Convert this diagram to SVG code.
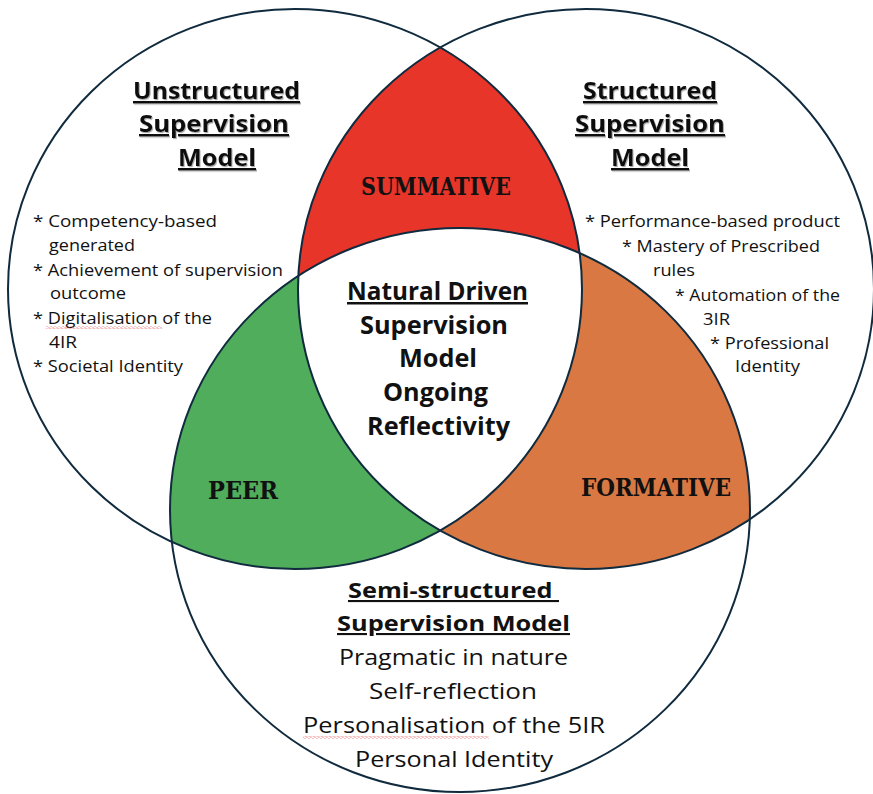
<svg xmlns="http://www.w3.org/2000/svg" width="873" height="794" viewBox="0 0 873 794">
<style>
.ring{fill:none;stroke:#102a3e;stroke-width:2}
.h{font-family:"Open Sans","Liberation Sans",sans-serif;font-weight:700;font-size:24px;fill:#111;text-decoration:underline}
.c{font-family:"Open Sans","Liberation Sans",sans-serif;font-weight:700;font-size:25px;fill:#111}
.li{font-family:"Open Sans","Liberation Sans",sans-serif;font-size:16.5px;fill:#111}
.deco{font-family:"DejaVu Serif","Liberation Serif",serif;font-weight:700;font-size:24px;fill:#111}
.bb{font-family:"Open Sans","Liberation Sans",sans-serif;font-weight:700;font-size:21px;fill:#111;text-decoration:underline}
.b{font-family:"Open Sans","Liberation Sans",sans-serif;font-size:22px;fill:#111}
.sq{fill:url(#wave)}
</style>
<defs>
<clipPath id="clipL"><ellipse cx="295" cy="289" rx="287" ry="280"/></clipPath>
<clipPath id="clipR"><ellipse cx="586" cy="289" rx="288" ry="280"/></clipPath>
<filter id="sh" x="-5%" y="-20%" width="110%" height="150%"><feDropShadow dx="1" dy="1.2" stdDeviation="0.6" flood-color="#777" flood-opacity="0.6"/></filter>
<pattern id="wave" patternUnits="userSpaceOnUse" width="4" height="3"><path d="M0 1.5 L1 0.5 L3 2.5 L4 1.5" fill="none" stroke="#e04a4a" stroke-width="0.7"/></pattern>
</defs>
<rect width="873" height="794" fill="#fff"/>
<g id="regions">
<ellipse cx="586" cy="289" rx="288" ry="280" fill="#E8352A" clip-path="url(#clipL)"/>
<ellipse cx="460" cy="510" rx="290" ry="282" fill="#4FAD5B" clip-path="url(#clipL)"/>
<ellipse cx="460" cy="510" rx="290" ry="282" fill="#D97842" clip-path="url(#clipR)"/>
<g clip-path="url(#clipL)"><ellipse cx="460" cy="510" rx="290" ry="282" fill="#fff" clip-path="url(#clipR)"/></g>
</g>
<g id="rings">
<ellipse class="ring" cx="295" cy="289" rx="287" ry="280"/>
<ellipse class="ring" cx="586" cy="289" rx="288" ry="280"/>
<ellipse class="ring" cx="460" cy="510" rx="290" ry="282"/>
</g>
<g id="unstructured">
<g filter="url(#sh)">
<text class="h" x="133" y="99" textLength="167" lengthAdjust="spacingAndGlyphs">Unstructured</text>
<text class="h" x="139" y="132" textLength="150" lengthAdjust="spacingAndGlyphs">Supervision</text>
<text class="h" x="178" y="166" textLength="78" lengthAdjust="spacingAndGlyphs">Model</text>
</g>
<text class="li" x="33" y="227" textLength="184" lengthAdjust="spacingAndGlyphs">* Competency-based</text>
<text class="li" x="49" y="251" textLength="86" lengthAdjust="spacingAndGlyphs">generated</text>
<text class="li" x="33" y="276" textLength="250" lengthAdjust="spacingAndGlyphs">* Achievement of supervision</text>
<text class="li" x="50" y="299" textLength="76" lengthAdjust="spacingAndGlyphs">outcome</text>
<text class="li" x="33" y="324" textLength="179" lengthAdjust="spacingAndGlyphs">* Digitalisation of the</text>
<rect class="sq" x="46" y="326" width="116" height="3"/>
<text class="li" x="49" y="348" textLength="28" lengthAdjust="spacingAndGlyphs">4IR</text>
<text class="li" x="33" y="372" textLength="150" lengthAdjust="spacingAndGlyphs">* Societal Identity</text>
</g>
<g id="structured">
<g filter="url(#sh)">
<text class="h" x="583" y="99" textLength="134" lengthAdjust="spacingAndGlyphs">Structured</text>
<text class="h" x="575" y="132" textLength="150" lengthAdjust="spacingAndGlyphs">Supervision</text>
<text class="h" x="611" y="166" textLength="78" lengthAdjust="spacingAndGlyphs">Model</text>
</g>
<text class="li" x="585" y="227" textLength="255" lengthAdjust="spacingAndGlyphs">* Performance-based product</text>
<text class="li" x="622" y="252" textLength="198" lengthAdjust="spacingAndGlyphs">* Mastery of Prescribed</text>
<text class="li" x="653" y="276" textLength="42" lengthAdjust="spacingAndGlyphs">rules</text>
<text class="li" x="675" y="301" textLength="165" lengthAdjust="spacingAndGlyphs">* Automation of the</text>
<text class="li" x="703" y="325" textLength="27" lengthAdjust="spacingAndGlyphs">3IR</text>
<text class="li" x="710" y="349" textLength="119" lengthAdjust="spacingAndGlyphs">* Professional</text>
<text class="li" x="735" y="372" textLength="65" lengthAdjust="spacingAndGlyphs">Identity</text>
</g>
<g id="summative"><text class="deco" x="361" y="195" textLength="150" lengthAdjust="spacingAndGlyphs">SUMMATIVE</text></g>
<g id="peer"><text class="deco" x="208" y="499" textLength="70" lengthAdjust="spacingAndGlyphs">PEER</text></g>
<g id="formative"><text class="deco" x="581" y="496" textLength="150" lengthAdjust="spacingAndGlyphs">FORMATIVE</text></g>
<g id="natural-driven">
<text class="c" x="347" y="300" textLength="181" lengthAdjust="spacingAndGlyphs" text-decoration="underline">Natural Driven</text>
<text class="c" x="360" y="334" textLength="148" lengthAdjust="spacingAndGlyphs">Supervision</text>
<text class="c" x="399" y="367" textLength="78" lengthAdjust="spacingAndGlyphs">Model</text>
<text class="c" x="383" y="401" textLength="105" lengthAdjust="spacingAndGlyphs">Ongoing</text>
<text class="c" x="367" y="435" textLength="143" lengthAdjust="spacingAndGlyphs">Reflectivity</text>
</g>
<g id="semi-structured">
<text class="bb" x="348" y="598" textLength="211" lengthAdjust="spacingAndGlyphs" xml:space="preserve">Semi-structured </text>
<text class="bb" x="337" y="631" textLength="233" lengthAdjust="spacingAndGlyphs">Supervision Model</text>
<text class="b" x="339" y="665" textLength="229" lengthAdjust="spacingAndGlyphs">Pragmatic in nature</text>
<text class="b" x="369" y="699" textLength="168" lengthAdjust="spacingAndGlyphs">Self-reflection</text>
<text class="b" x="303" y="733" textLength="302" lengthAdjust="spacingAndGlyphs">Personalisation of the 5IR</text>
<rect class="sq" x="303" y="736" width="186" height="3"/>
<text class="b" x="355" y="767" textLength="198" lengthAdjust="spacingAndGlyphs">Personal Identity</text>
</g>
</svg>
